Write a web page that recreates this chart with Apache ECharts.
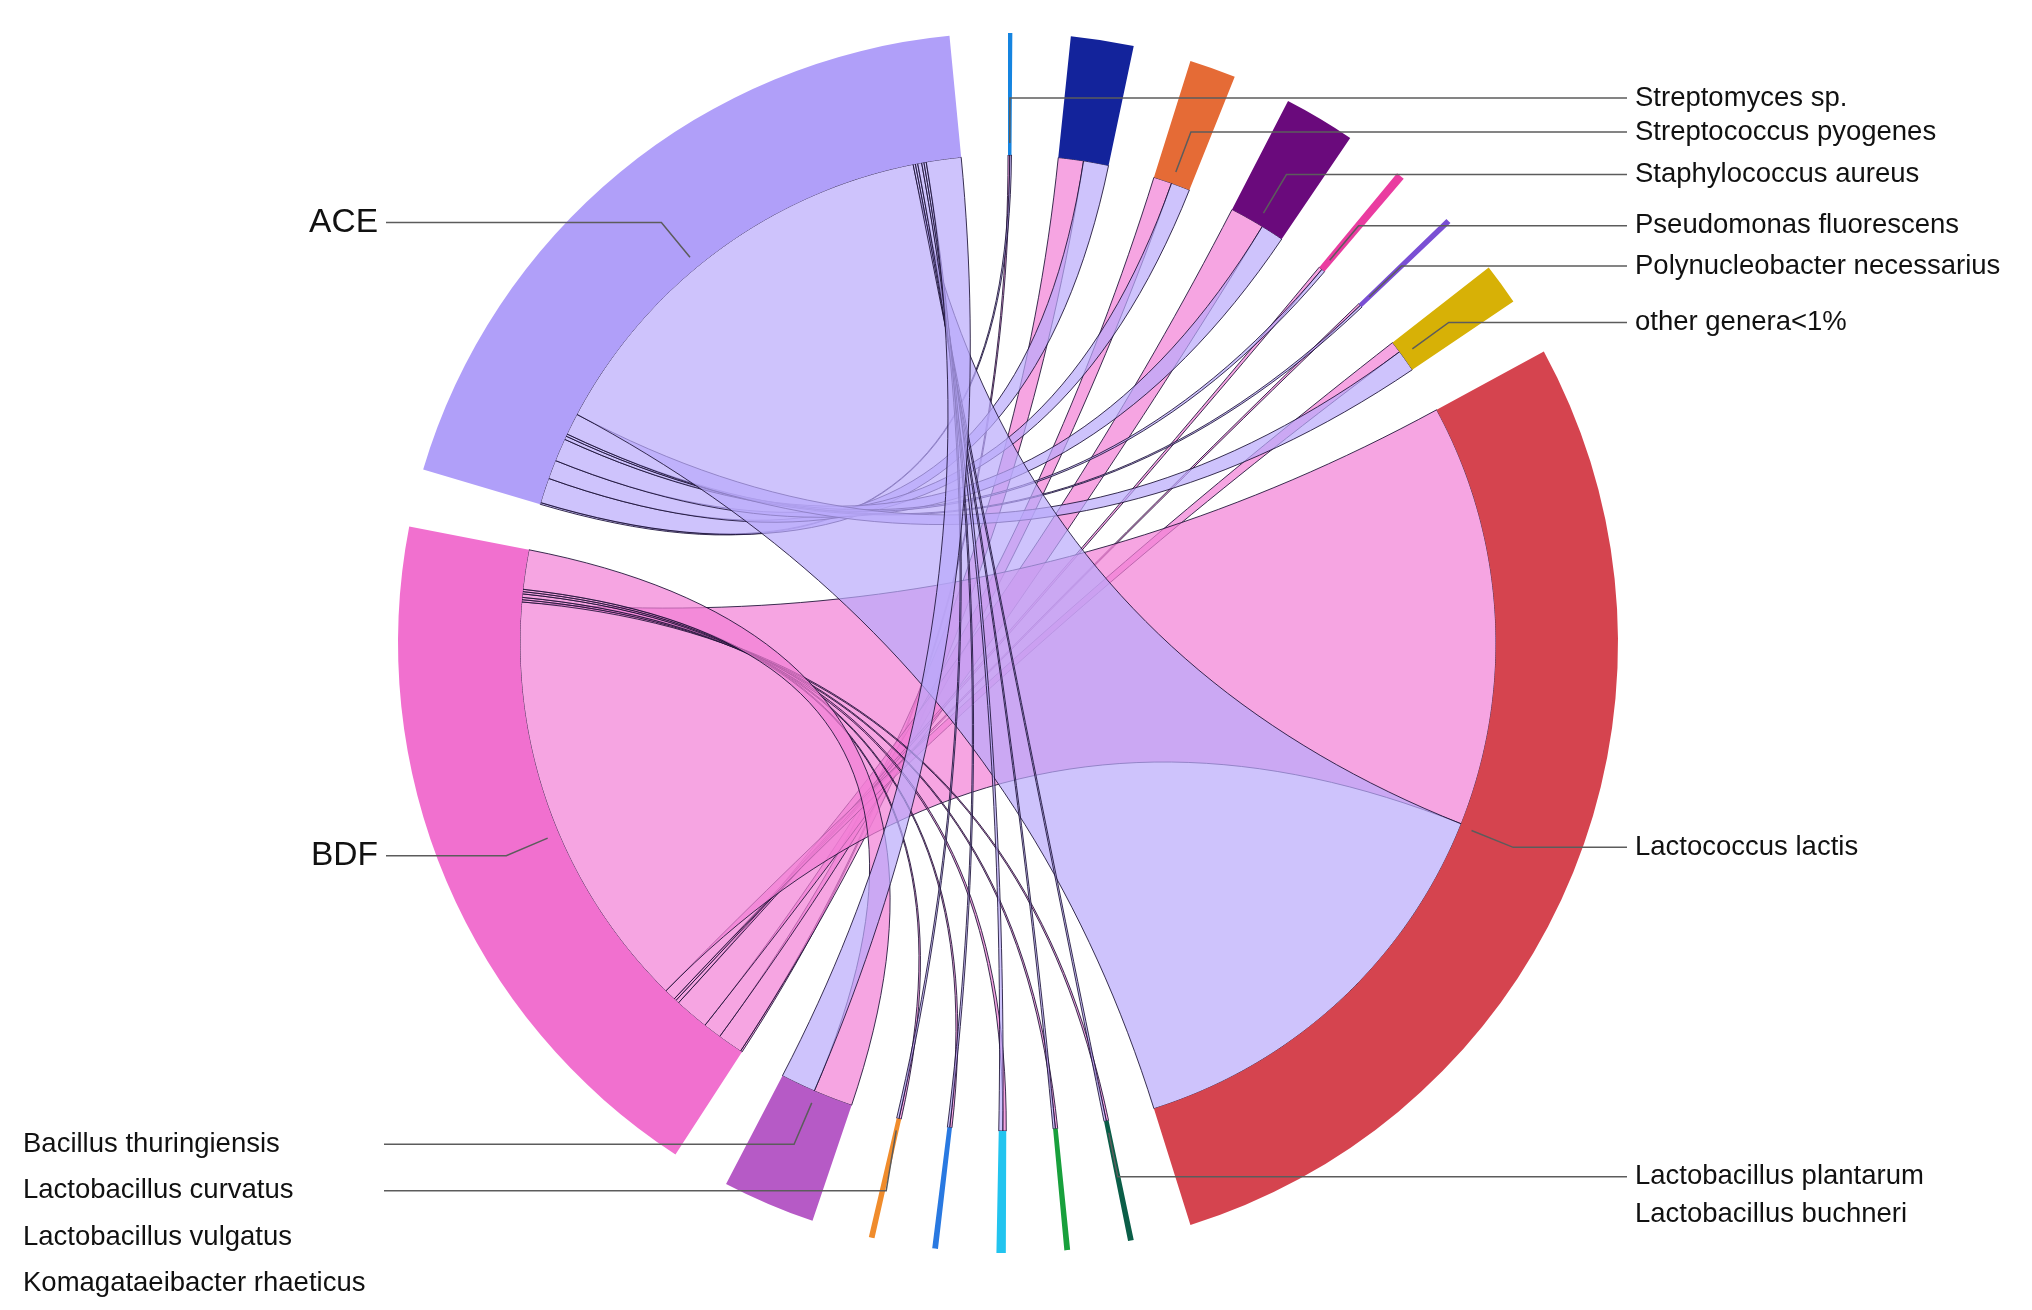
<!DOCTYPE html>
<html>
<head>
<meta charset="utf-8">
<title>ACE / BDF chord diagram</title>
<script src="https://cdn.jsdelivr.net/npm/echarts@6/dist/echarts.min.js"></script>
<style>
  html, body { margin: 0; padding: 0; background: #fff; }
  #chart { width: 2032px; height: 1310px; }
</style>
</head>
<body>
<div id="chart"></div>
<script>
'use strict';

// species on the ring, clockwise from the top (the dark blue one has no label in the source)
const species = [
    'Streptomyces sp.', '', 'Streptococcus pyogenes', 'Staphylococcus aureus',
    'Pseudomonas fluorescens', 'Polynucleobacter necessarius', 'other genera<1%',
    'Lactococcus lactis', 'Lactobacillus plantarum', 'Lactobacillus buchneri',
    'Komagataeibacter rhaeticus', 'Lactobacillus vulgatus', 'Lactobacillus curvatus',
    'Bacillus thuringiensis'
];
// relative abundance (%) of each species in the two samples
const aceValues = [0.3, 4.4, 3.3, 4.0, 0.6, 0.4, 3.8, 74.8, 0.4, 0.4, 0.7, 0.4, 0.4, 6.1];
const bdfValues = [0.3, 4.4, 3.2, 6.0, 0.6, 0.4, 2.0, 74.0, 0.4, 0.4, 0.6, 0.4, 0.4, 6.9];
const groups = ['BDF', 'ACE'];

const speciesColors = [
    '#1584e0', '#13239b', '#e56b36', '#6a0a7c', '#ea3ca0', '#7a4fd4', '#d7b106',
    '#d5444f', '#0b5e48', '#18a03c', '#22c4ef', '#2979e1', '#f08c2c', '#b65ac6'
];
const groupColors = { BDF: '#f170cf', ACE: '#b09ff9' };
const ribbonColors = { BDF: 'rgba(242,127,214,0.7)', ACE: 'rgba(185,169,251,0.7)' };

// labels drawn without a leader line, labels set against the left edge, taller rows
const noLeader = ['Lactobacillus vulgatus', 'Komagataeibacter rhaeticus', 'Lactobacillus buchneri'];
const edgeLabels = ['Bacillus thuringiensis', 'Lactobacillus curvatus',
    'Lactobacillus vulgatus', 'Komagataeibacter rhaeticus'];
const rowHeight = {
    'Bacillus thuringiensis': 44.5, 'Lactobacillus curvatus': 44.5,
    'Lactobacillus vulgatus': 44.5, 'Komagataeibacter rhaeticus': 44.5,
    'Lactobacillus plantarum': 36, 'Lactobacillus buchneri': 36
};

const CX = 1008, CY = 643;
const R_IN = 488, R_OUT = 610, R_LABEL = 500;
const LINE_LEN = 45;
const LEFT_X = 386, RIGHT_X = 1627, EDGE = 23;
const GAP = 8.1;
const FONT = "'Liberation Sans', Arial, Helvetica, sans-serif";
const FONT_SIZE = 27.5, GROUP_FONT_SIZE = 33.5;

const sum = arr => arr.reduce((a, b) => a + b, 0);

const measure = document.createElement('canvas').getContext('2d');
measure.font = FONT_SIZE + 'px ' + FONT;

// nodes: species then the two groups, each followed by a gap
const nodes = species.map((name, i) => ({
    name: name, value: aceValues[i] + bdfValues[i], color: speciesColors[i]
}));
nodes.push({ name: 'BDF', value: sum(bdfValues), color: groupColors.BDF });
nodes.push({ name: 'ACE', value: sum(aceValues), color: groupColors.ACE });

let pos = 0;
nodes.forEach(n => {
    n.start = pos;
    n.end = pos + n.value;
    pos = n.end + GAP;
});
const TOTAL = pos;

// ribbon ends: [groupStart, groupEnd, speciesStart, speciesEnd]
const ribbons = { BDF: [], ACE: [] };
const cursor = {};
groups.forEach(g => { cursor[g] = nodes[species.length + groups.indexOf(g)].start; });
species.forEach((name, i) => {
    let cur = nodes[i].start;
    [['BDF', bdfValues[i]], ['ACE', aceValues[i]]].forEach(([g, v]) => {
        ribbons[g].push([cursor[g], cursor[g] + v, cur, cur + v]);
        cursor[g] += v;
        cur += v;
    });
});

// horizontal part of each leader line, long enough to reach the label column
function leaderLength(n) {
    const mid = (n.start + n.end) / 2 / TOTAL * Math.PI * 2;
    const x2 = CX + (R_LABEL + LINE_LEN) * Math.sin(mid);
    return Math.max(4, Math.sin(mid) > 0 ? RIGHT_X - x2 : x2 - LEFT_X);
}

const ringData = [];
const labelData = [];
nodes.forEach(n => {
    ringData.push({ name: n.name, value: n.value, itemStyle: { color: n.color } });
    ringData.push({ name: '', value: GAP, itemStyle: { color: 'rgba(0,0,0,0)' } });

    const isGroup = groups.indexOf(n.name) >= 0;
    const label = {
        show: n.name !== '',
        fontSize: isGroup ? GROUP_FONT_SIZE : FONT_SIZE,
        lineHeight: rowHeight[n.name] || (isGroup ? 38 : 32)
    };
    if (edgeLabels.indexOf(n.name) >= 0) {
        // text sits at the left edge, the leader still ends at the label column
        label.alignTo = 'edge';
        label.edgeDistance = EDGE;
        label.distanceToLabelLine = Math.max(8, LEFT_X - EDGE - measure.measureText(n.name).width - 2);
    }
    if (isGroup) {
        label.width = 110;
    }
    labelData.push({
        name: n.name,
        value: n.value,
        label: label,
        labelLine: {
            show: n.name !== '' && noLeader.indexOf(n.name) < 0,
            length2: leaderLength(n)
        }
    });
    labelData.push({ name: '', value: GAP, label: { show: false }, labelLine: { show: false } });
});

function arcPoints(api, a, b, out) {
    const n = Math.max(2, Math.ceil(Math.abs(b - a) / 0.3));
    for (let k = 0; k <= n; k++) {
        out.push(api.coord([1, a + (b - a) * k / n]));
    }
}

function curvePoints(p0, c, p1, out) {
    for (let k = 1; k <= 48; k++) {
        const t = k / 48, u = 1 - t;
        out.push([
            u * u * p0[0] + 2 * u * t * c[0] + t * t * p1[0],
            u * u * p0[1] + 2 * u * t * c[1] + t * t * p1[1]
        ]);
    }
}

const ribbonRenderer = fill => function (params, api) {
    const g0 = api.value(0), g1 = api.value(1), t0 = api.value(2), t1 = api.value(3);
    const centre = api.coord([0, 0]);
    const pts = [];
    arcPoints(api, g0, g1, pts);
    curvePoints(pts[pts.length - 1], centre, api.coord([1, t0]), pts);
    arcPoints(api, t0, t1, pts);
    curvePoints(pts[pts.length - 1], centre, api.coord([1, g0]), pts);
    return {
        type: 'polygon',
        shape: { points: pts },
        style: { fill: fill, stroke: 'rgba(25,15,50,0.85)', lineWidth: 1 }
    };
};

const chart = echarts.init(document.getElementById('chart'));

chart.setOption({
    backgroundColor: '#ffffff',
    animation: false,
    polar: { center: [CX, CY], radius: R_IN },
    angleAxis: { type: 'value', min: 0, max: TOTAL, startAngle: 90, clockwise: true, show: false },
    radiusAxis: { type: 'value', min: 0, max: 1, show: false },
    series: [
        {
            type: 'custom',
            coordinateSystem: 'polar',
            silent: true,
            z: 1,
            data: ribbons.BDF,
            renderItem: ribbonRenderer(ribbonColors.BDF)
        },
        {
            type: 'custom',
            coordinateSystem: 'polar',
            silent: true,
            z: 2,
            data: ribbons.ACE,
            renderItem: ribbonRenderer(ribbonColors.ACE)
        },
        {
            type: 'pie',
            center: [CX, CY],
            radius: [R_IN, R_OUT],
            startAngle: 90,
            clockwise: true,
            silent: true,
            z: 3,
            itemStyle: { borderWidth: 0 },
            label: { show: false },
            labelLine: { show: false },
            emphasis: { disabled: true },
            data: ringData
        },
        {
            type: 'pie',
            center: [CX, CY],
            radius: [0, R_LABEL],
            startAngle: 90,
            clockwise: true,
            silent: true,
            z: 4,
            avoidLabelOverlap: true,
            itemStyle: { color: 'rgba(0,0,0,0)', borderWidth: 0 },
            label: {
                show: true,
                position: 'outside',
                alignTo: 'labelLine',
                distanceToLabelLine: 8,
                formatter: '{b}',
                color: '#111111',
                fontFamily: FONT,
                fontSize: FONT_SIZE
            },
            labelLine: {
                show: true,
                length: LINE_LEN,
                length2: 115,
                lineStyle: { color: '#5c5c5c', width: 1.5 }
            },
            emphasis: { disabled: true },
            data: labelData
        }
    ]
});
</script>
</body>
</html>
